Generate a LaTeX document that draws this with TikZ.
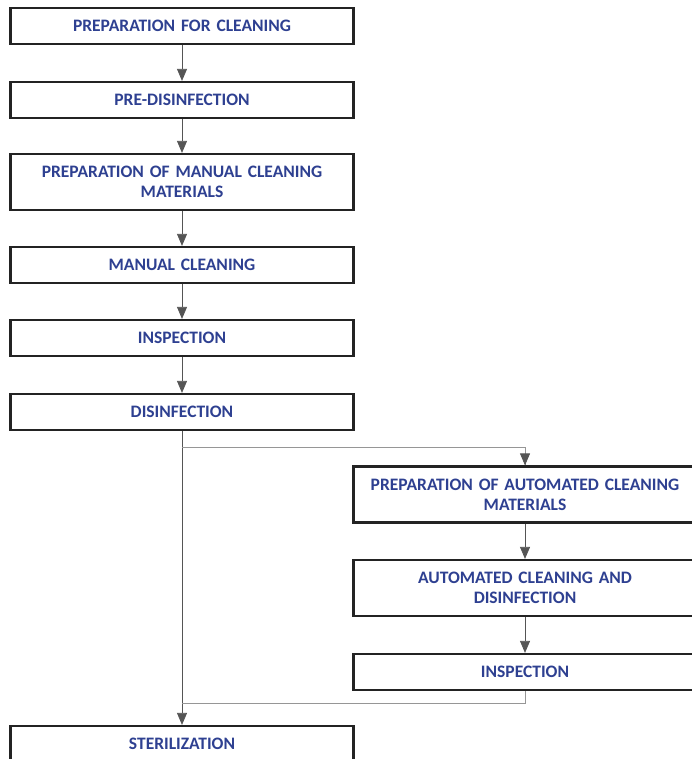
\documentclass[tikz,border=0pt]{standalone}
\usepackage{fontspec}
\setmainfont{Carlito}[BoldFont={Carlito Bold}, WordSpace=0.75]
\usepackage{xcolor}
\usetikzlibrary{arrows.meta}

\definecolor{stepblue}{RGB}{46,64,145}
\definecolor{framegray}{RGB}{35,35,35}
\definecolor{linegray}{RGB}{85,85,85}
\definecolor{branchgray}{RGB}{150,150,150}

\tikzset{
    stepbox/.style={draw=framegray, line width=2.2pt, fill=white, minimum width=343pt,
        minimum height=36pt, text width=335pt, align=center, inner sep=0pt,
        font=\bfseries\fontsize{17.5}{20}\selectfont, text=stepblue},
    tallbox/.style={stepbox, minimum height=56pt},
    conn/.style={linegray, line width=0.8pt, -{Triangle[width=10pt,length=12pt]}},
    branch/.style={branchgray, line width=1pt}
}

\begin{document}
\begin{tikzpicture}[x=1pt,y=1pt]

\useasboundingbox (0,0) rectangle (692,-759);

% main column
\node[stepbox] (prep) at (182,-26) {PREPARATION FOR CLEANING};
\node[stepbox] (predis) at (182,-100) {PRE-DISINFECTION};
\node[tallbox] (manprep) at (182,-182) {PREPARATION OF MANUAL CLEANING\\MATERIALS};
\node[stepbox] (manual) at (182,-265) {MANUAL CLEANING};
\node[stepbox] (insp) at (182,-338) {INSPECTION};
\node[stepbox] (disinf) at (182,-412) {DISINFECTION};
\node[stepbox] (steril) at (182,-744) {STERILIZATION};

% automated column
\node[tallbox] (autoprep) at (525,-494.5) {PREPARATION OF AUTOMATED CLEANING\\MATERIALS};
\node[tallbox] (auto) at (525,-588) {AUTOMATED CLEANING AND\\DISINFECTION};
\node[stepbox] (autoinsp) at (525,-672) {INSPECTION};

\coordinate (split) at (182,-447);
\coordinate (merge) at (182,-703);

\draw[conn] (prep) -- (predis);
\draw[conn] (predis) -- (manprep);
\draw[conn] (manprep) -- (manual);
\draw[conn] (manual) -- (insp);
\draw[conn] (insp) -- (disinf);
\draw[conn] (disinf) -- (steril);

\draw[branch] (split) -| (autoprep.north);
\draw[conn] ([yshift=-10pt]autoprep.north |- split) -- (autoprep);
\draw[conn] (autoprep) -- (auto);
\draw[conn] (auto) -- (autoinsp);
\draw[branch] (autoinsp.south) |- (merge);

\end{tikzpicture}
\end{document}
